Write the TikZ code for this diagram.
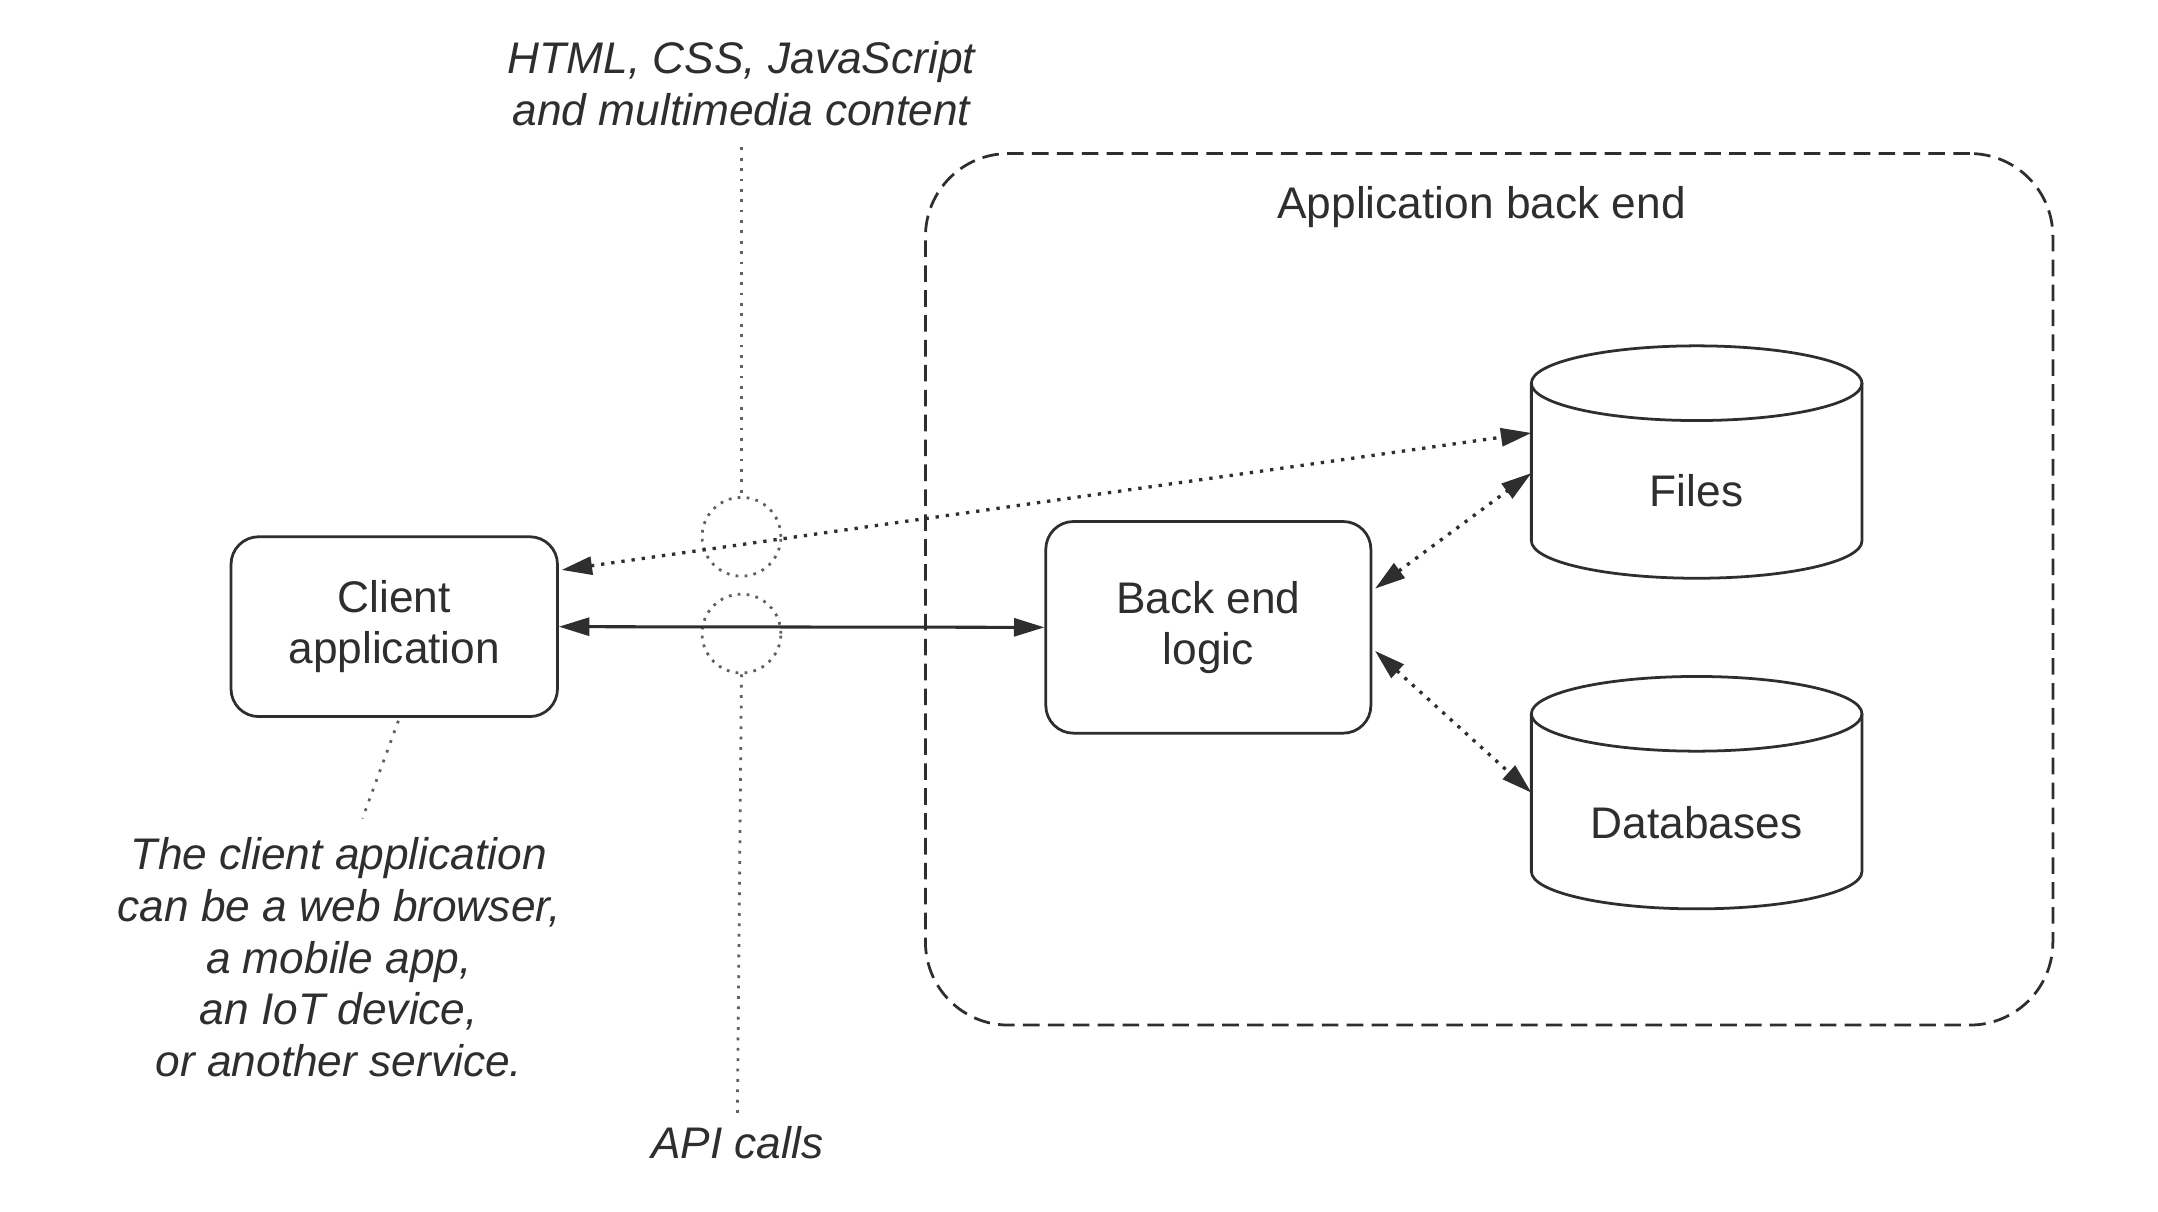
\documentclass[tikz,border=0pt]{standalone}
\usepackage{fontspec}
\setmainfont{Liberation Sans}
\usetikzlibrary{arrows.meta,calc}
\definecolor{ink}{HTML}{2E2E2E}
\definecolor{guide}{HTML}{606060}
\begin{document}
\begin{tikzpicture}[x=1pt,y=-1pt,
  >={Triangle[length=22pt,width=13pt]},
  every node/.style={font=\fontsize{32}{37}\selectfont, text=ink},
  box/.style={draw=ink, line width=2pt, rounded corners=20pt, minimum width=236pt, minimum height=130pt, align=center, inner sep=0pt},
  note/.style={font=\fontsize{32}{37.5}\selectfont\itshape, align=center, text=ink},
  container/.style={draw=ink, line width=2pt, dash pattern=on 12pt off 6pt, rounded corners=60pt, minimum width=815pt, minimum height=630pt},
  ring/.style={circle, draw=guide, line width=2pt, dash pattern=on 2pt off 4.5pt, minimum size=57pt, inner sep=0pt},
  cylbody/.style={minimum width=239pt, minimum height=114pt, inner sep=0pt, outer sep=0pt},
  cyl/.style={draw=ink, line width=2pt},
  dotline/.style={draw=ink, line width=2.4pt, dash pattern=on 2.4pt off 5pt},
  solidline/.style={draw=ink, line width=2.2pt},
  guideline/.style={draw=guide, line width=2pt, dash pattern=on 2pt off 5.5pt}
]
\useasboundingbox (0,0) rectangle (1560,876);

% annotations
\node[note] (html) at (536,60.5) {HTML, CSS, JavaScript\\and multimedia content};
\node[note] (api) at (533,826) {API calls};
\node[note] (cnote) at (245,692) {The client application\\can be a web browser,\\a mobile app,\\an IoT device,\\or another service.};

% back end container
\node[container] (area) at (1076.5,426) {};
\node (areatitle) at (1071,150) {Application back end};

% boxes
\node[box] (client) at (285,453) {Client\\application};
\node[box, minimum width=235pt, minimum height=153pt] (logic) at (873.5,453.5) {Back end\\logic};

% cylinders
\node[cylbody] (files) at (1226.5,334) {};
\draw[cyl] (files.north) ellipse [x radius=119.5pt, y radius=27pt];
\draw[cyl] (files.north west) -- (files.south west) arc [start angle=180, end angle=360, x radius=119.5pt, y radius=27pt] -- (files.north east);
\node (fileslabel) at ($(files.center)+(0,21)$) {Files};

\node[cylbody] (dbs) at (1226.5,573) {};
\draw[cyl] (dbs.north) ellipse [x radius=119.5pt, y radius=27pt];
\draw[cyl] (dbs.north west) -- (dbs.south west) arc [start angle=180, end angle=360, x radius=119.5pt, y radius=27pt] -- (dbs.north east);
\node (dbslabel) at ($(dbs.center)+(0,22)$) {Databases};

% API boundary guide
\node[ring] (c1) at (536,388) {};
\node[ring] (c2) at (536,458) {};
\draw[guideline, shorten <=12pt] (html.south) -- (c1.north);
\draw[guideline, shorten >=4pt] (c2.south) -- (api.north);
\draw[guideline] ($(client.south)+(3,2)$) -- ($(cnote.north)+(17,-10)$);

% connectors
\draw[solidline, <->] (client.east) -- (logic.west);
\draw[dotline, <->] ($(client.east)+(2,-41)$) -- ($(files.west)+(0,-21)$);
\draw[dotline, <->] ($(logic.east)+(2,-28)$) -- ($(files.west)+(0,8)$);
\draw[dotline, <->] ($(logic.east)+(2,17)$) -- (dbs.west);
\end{tikzpicture}
\end{document}
